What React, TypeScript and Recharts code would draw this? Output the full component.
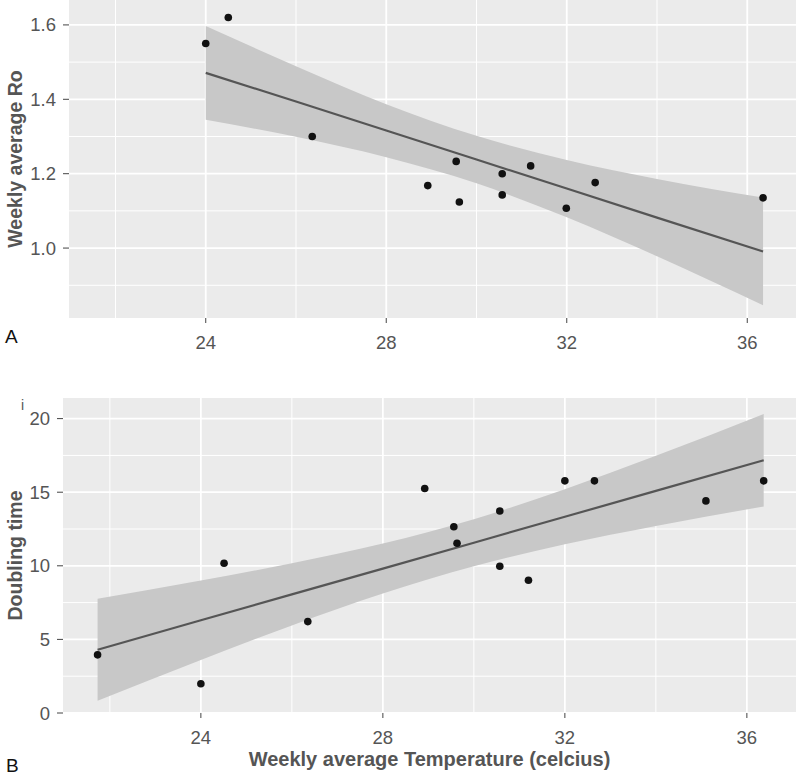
import React from 'react';
import { ComposedChart, Area, Line, Scatter, XAxis, YAxis, CartesianGrid } from 'recharts';

// panel A: weekly average Ro vs temperature
const tempA = [24.0, 24.5, 26.36, 28.92, 29.55, 29.62, 30.57, 30.57, 31.2, 31.99, 32.63, 36.35];
const roA = [1.55, 1.62, 1.3, 1.168, 1.233, 1.124, 1.2, 1.143, 1.221, 1.107, 1.176, 1.135];
const bandXA = [24.0, 26, 28, 30, 32, 34, 36.35];
const fitA = [1.471, 1.394, 1.316, 1.238, 1.16, 1.082, 0.991];
const lowA = [1.345, 1.299, 1.244, 1.174, 1.083, 0.978, 0.846];
const highA = [1.597, 1.489, 1.387, 1.302, 1.237, 1.186, 1.136];

// panel B: doubling time vs temperature
const tempB = [21.73, 24.0, 24.51, 26.35, 28.92, 29.56, 29.63, 30.57, 30.57, 31.2, 32.0, 32.65, 35.1, 36.37];
const dtB = [3.95, 1.99, 10.17, 6.21, 15.25, 12.65, 11.53, 13.72, 9.97, 9.02, 15.77, 15.77, 14.41, 15.77];
const bandXB = [21.73, 24, 26, 28, 30, 32, 34, 36.37];
const fitB = [4.3, 6.3, 8.06, 9.81, 11.57, 13.33, 15.09, 17.17];
const lowB = [0.84, 3.6, 5.95, 8.11, 9.97, 11.46, 12.71, 14.03];
const highB = [7.76, 9.0, 10.17, 11.51, 13.17, 15.2, 17.47, 20.31];

const xTicks = [24, 28, 32, 36];
const xMinor = [22, 26, 30, 34];
const yTicksA = [1.0, 1.2, 1.4, 1.6];
const yMinorA = [0.9, 1.1, 1.3, 1.5];
const yTicksB = [0, 5, 10, 15, 20];
const yMinorB = [2.5, 7.5, 12.5, 17.5];

const FONT = '"Liberation Sans", Arial, sans-serif';
const tickStyle = { fill: '#555', fontSize: 18.5, fontFamily: FONT };

const bandRows = (xs: number[], fit: number[], lo: number[], hi: number[]) =>
  xs.map((x, i) => ({ x, fit: fit[i], band: [lo[i], hi[i]] }));
const pointRows = (xs: number[], ys: number[]) => xs.map((x, i) => ({ x, y: ys[i] }));

const dot = (p: any) => <circle cx={p.cx} cy={p.cy} r={3.8} fill="#111" />;

function Panel(props: {
  height: number;
  yWidth: number;
  xHeight: number;
  yDomain: number[];
  yTicks: number[];
  yMinor: number[];
  rows: any[];
  points: any[];
  yTitle: string;
  xTitle?: string;
}) {
  const { height, yWidth, xHeight, yDomain, yTicks, yMinor, rows, points, yTitle, xTitle } = props;
  return (
    <ComposedChart width={800} height={height} data={rows} margin={{ top: 0, right: 4, left: 0, bottom: 0 }}>
      <CartesianGrid
        horizontalValues={yMinor}
        verticalValues={xMinor}
        stroke="#ffffff"
        strokeWidth={1}
        fill="#ebebeb"
        fillOpacity={1}
      />
      <CartesianGrid horizontalValues={yTicks} verticalValues={xTicks} stroke="#ffffff" strokeWidth={1.8} />
      <XAxis
        type="number"
        dataKey="x"
        domain={[20.97, 37.08]}
        allowDataOverflow
        ticks={xTicks}
        height={xHeight}
        axisLine={false}
        tickLine={{ stroke: '#444' }}
        tickSize={5}
        tickMargin={13}
        tick={tickStyle}
        label={
          xTitle
            ? {
                content: (lp: any) => {
                  const vb = lp.viewBox || {};
                  return (
                    <text
                      x={vb.x + vb.width / 2}
                      y={height - 12}
                      textAnchor="middle"
                      fontFamily={FONT}
                      fontSize={20}
                      fontWeight="bold"
                      fill="#555"
                    >
                      {xTitle}
                    </text>
                  );
                },
              }
            : undefined
        }
      />
      <YAxis
        type="number"
        domain={yDomain}
        allowDataOverflow
        ticks={yTicks}
        width={yWidth}
        axisLine={false}
        tickLine={{ stroke: '#444' }}
        tickSize={6}
        tickMargin={7}
        tick={tickStyle}
        tickFormatter={(v: number) => (yTicks[yTicks.length - 1] < 5 ? v.toFixed(1) : String(v))}
        label={{
          content: (lp: any) => {
            const vb = lp.viewBox || {};
            const cy = vb.y + vb.height / 2;
            return (
              <text
                x={15}
                y={cy}
                transform={`rotate(-90 15 ${cy})`}
                textAnchor="middle"
                dominantBaseline="central"
                fontFamily={FONT}
                fontSize={19.5}
                fontWeight="bold"
                fill="#555"
              >
                {yTitle}
              </text>
            );
          },
        }}
      />
      <Area
        type="monotone"
        dataKey="band"
        stroke="none"
        fill="#c8c8c8"
        fillOpacity={1}
        isAnimationActive={false}
      />
      <Line type="linear" dataKey="fit" stroke="#555" strokeWidth={2.2} dot={false} isAnimationActive={false} />
      <Scatter data={points} dataKey="y" shape={dot} isAnimationActive={false} />
    </ComposedChart>
  );
}

export default function App() {
  return (
    <div style={{ position: 'absolute', left: 0, top: 0, width: 800, height: 778, background: '#fff', fontFamily: FONT }}>
      <div style={{ position: 'absolute', left: 0, top: 0 }}>
        <Panel
          height={360}
          yWidth={69}
          xHeight={42}
          yDomain={[0.812, 1.667]}
          yTicks={yTicksA}
          yMinor={yMinorA}
          rows={bandRows(bandXA, fitA, lowA, highA)}
          points={pointRows(tempA, roA)}
          yTitle="Weekly average Ro"
        />
      </div>
      <div style={{ position: 'absolute', left: 0, top: 398 }}>
        <Panel
          height={380}
          yWidth={63}
          xHeight={65}
          yDomain={[0, 21.4]}
          yTicks={yTicksB}
          yMinor={yMinorB}
          rows={bandRows(bandXB, fitB, lowB, highB)}
          points={pointRows(tempB, dtB)}
          yTitle="Doubling time"
          xTitle="Weekly average Temperature (celcius)"
        />
      </div>
      <div style={{ position: 'absolute', left: 5, top: 326, fontSize: 19, color: '#111' }}>A</div>
      <div style={{ position: 'absolute', left: 6, top: 755, fontSize: 19, color: '#111' }}>B</div>
      <div style={{ position: 'absolute', left: 21, top: 397, fontSize: 14, color: '#555' }}>i</div>
    </div>
  );
}
